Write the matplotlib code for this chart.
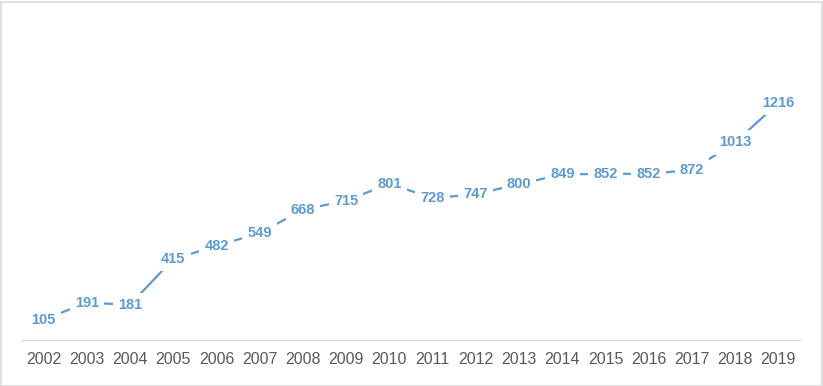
import matplotlib
matplotlib.use('Agg')
import matplotlib.pyplot as plt
import matplotlib.patches as patches
import numpy as np

years = ['2002', '2003', '2004', '2005', '2006', '2007', '2008', '2009', '2010',
         '2011', '2012', '2013', '2014', '2015', '2016', '2017', '2018', '2019']
values = [105, 191, 181, 415, 482, 549, 668, 715, 801,
          728, 747, 800, 849, 852, 852, 872, 1013, 1216]

BLUE = '#5B9BD5'
GRAY = '#595959'
plt.rcParams['font.family'] = ['Liberation Sans', 'DejaVu Sans']

fig = plt.figure(figsize=(8.23, 3.86), dpi=100)
ax = fig.add_axes([22 / 823, 46 / 386, 778 / 823, 273 / 386])

x = np.arange(len(years))
ax.plot(x, values, color=BLUE, linewidth=1.6, zorder=2)
for xi, v in zip(x, values):
    ax.text(xi, v, str(v), ha='center', va='center', fontsize=10.5, fontweight='bold',
            color=BLUE, zorder=3,
            bbox=dict(boxstyle='square,pad=0.35', facecolor='white', edgecolor='none'))

ax.set_xlim(-0.5, len(years) - 0.5)
ax.set_ylim(0, 1400)
ax.set_xticks(x)
ax.set_xticklabels(years, fontsize=11.5, color=GRAY)
ax.tick_params(axis='x', length=0, pad=9)
ax.set_yticks([])
for s in ['top', 'left', 'right']:
    ax.spines[s].set_visible(False)
ax.spines['bottom'].set_color('#D9D9D9')
ax.spines['bottom'].set_linewidth(1.0)

# chart border
fig.patches.append(patches.Rectangle((0.5 / 823, 0.5 / 386), 821 / 823, 384 / 386,
                                     transform=fig.transFigure, fill=False,
                                     edgecolor='#D9D9D9', linewidth=1.2))

plt.savefig('out.png', dpi=100)
